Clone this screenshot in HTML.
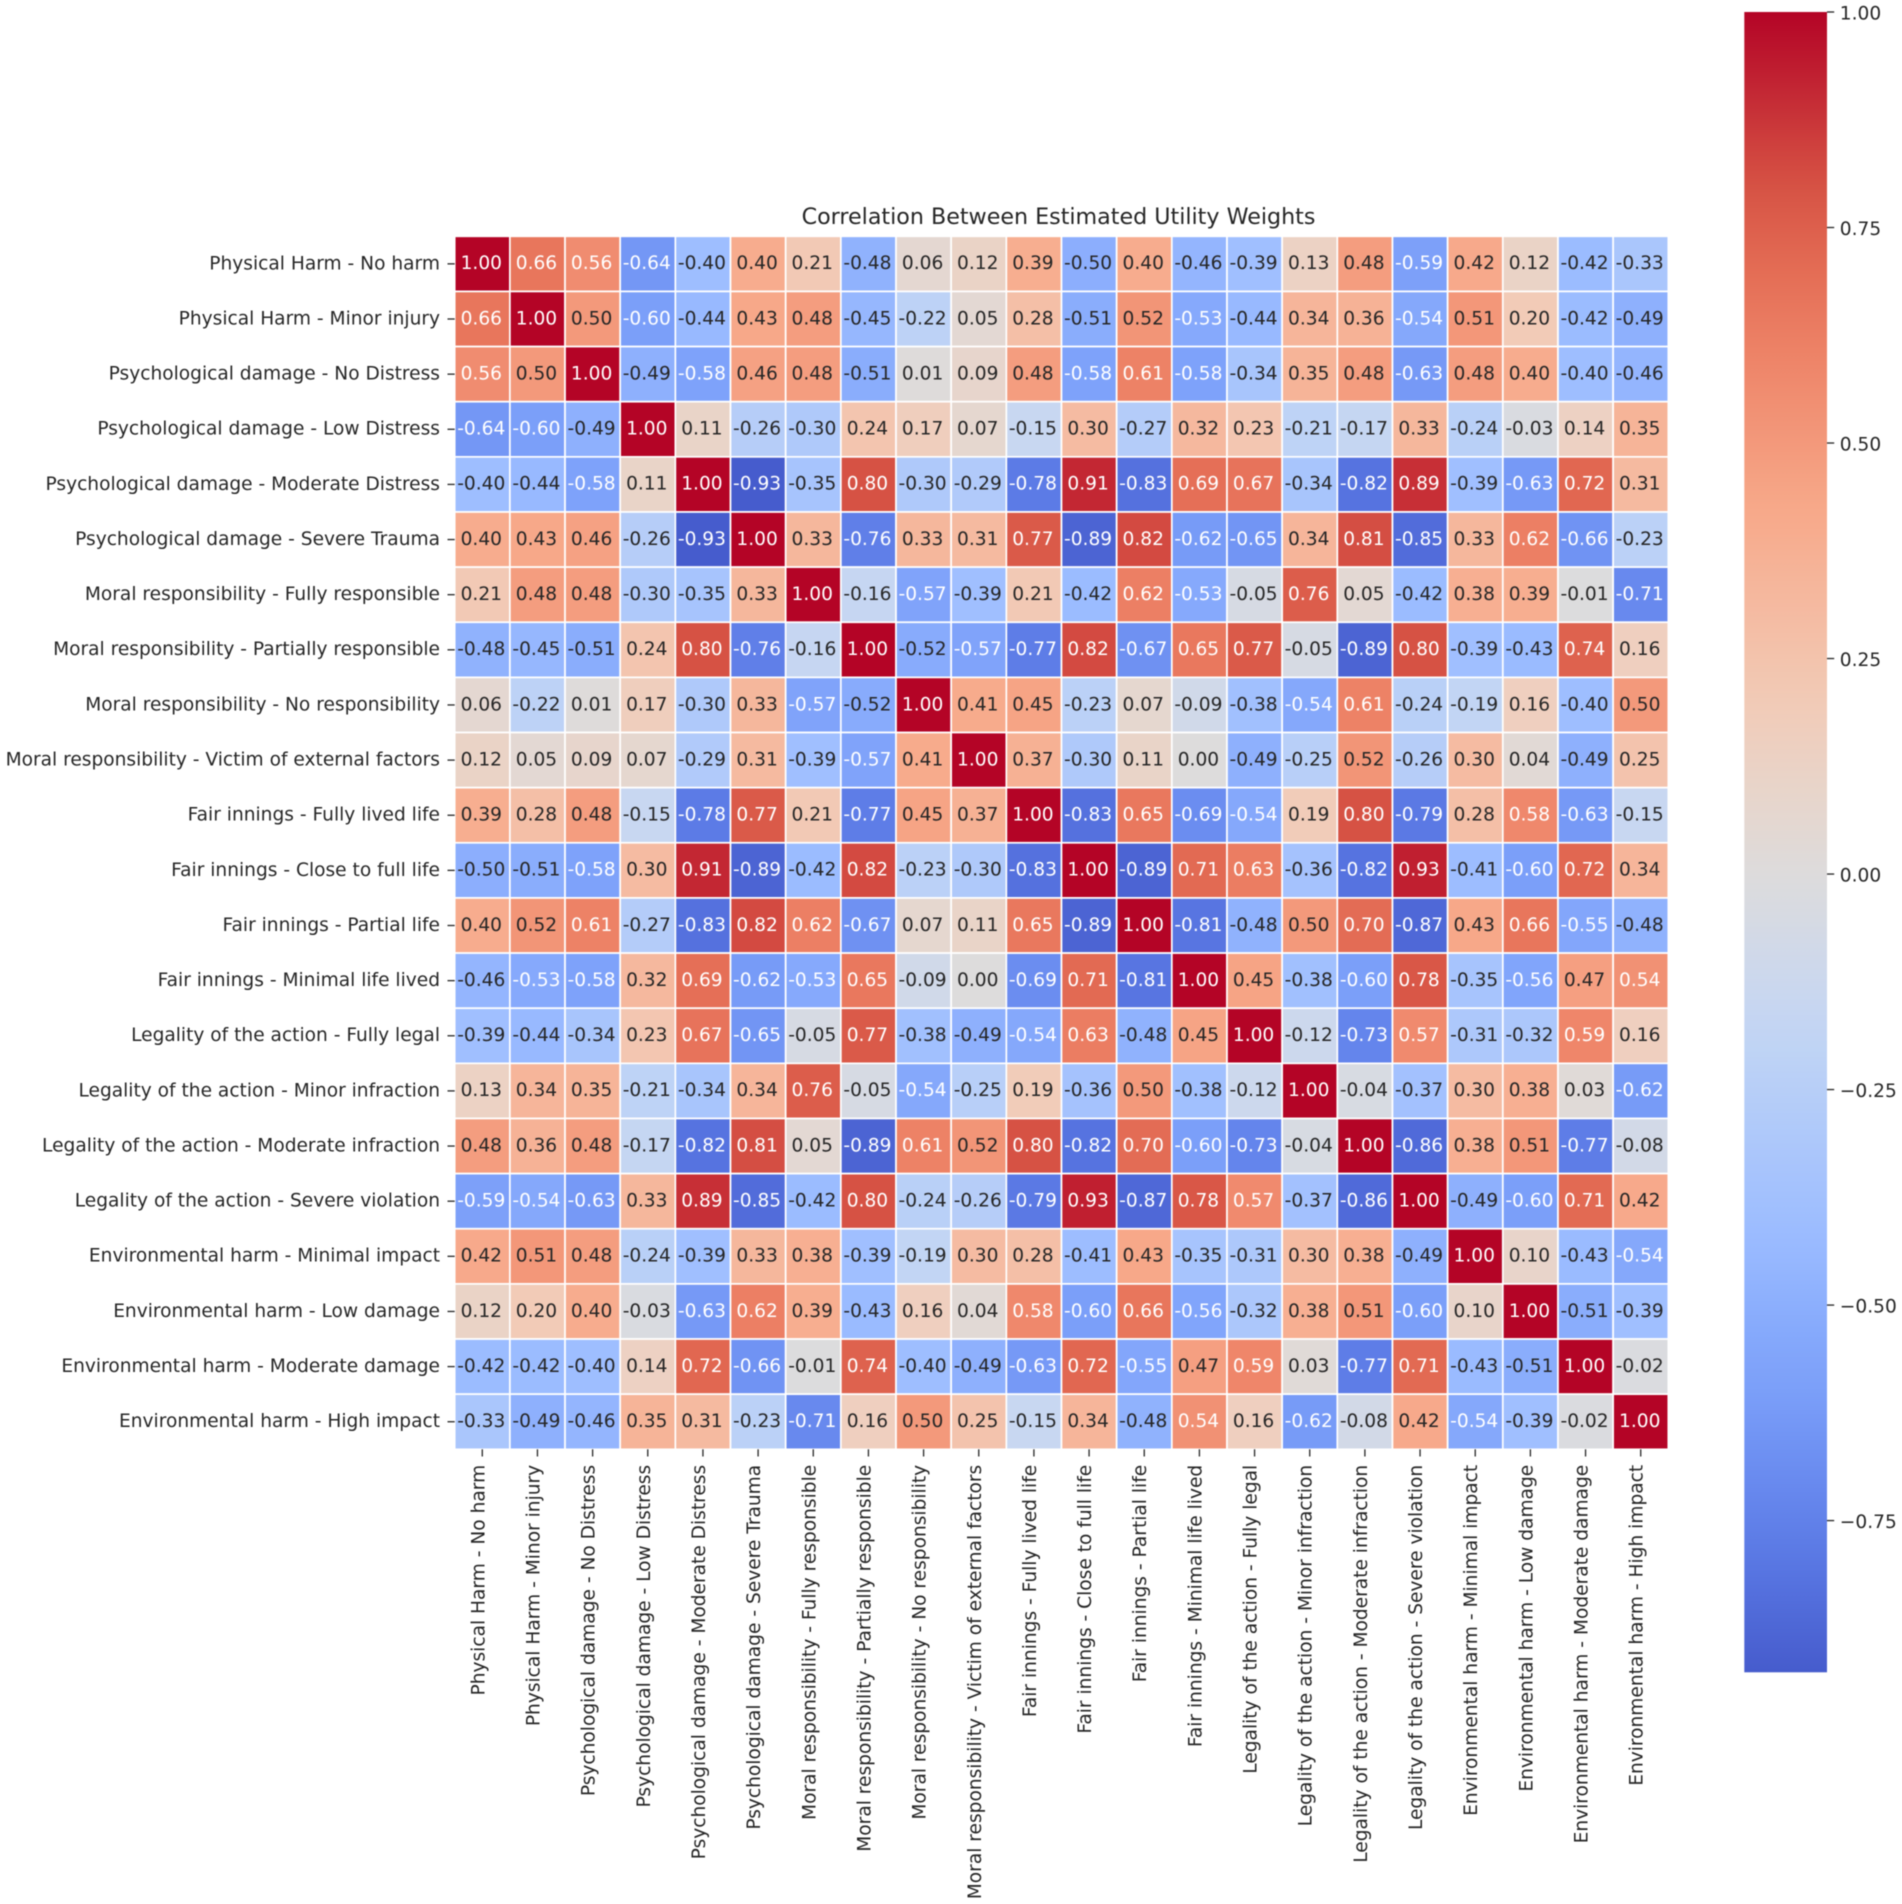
<!DOCTYPE html>
<html lang="en">
<head>
<meta charset="utf-8">
<title>Correlation Between Estimated Utility Weights</title>
<style>
  html, body { margin: 0; padding: 0; background: #ffffff; }
  body { width: 1902px; height: 1904px; overflow: hidden; }
  svg { display: block; filter: blur(0.4px); }
  text { font-family: "DejaVu Sans", "Liberation Sans", sans-serif; fill: #262626; }
</style>
</head>
<body>
<svg id="chart" xmlns="http://www.w3.org/2000/svg" width="1902" height="1904" viewBox="0 0 1902 1904">
  <defs id="defs"></defs>
  <text x="1058.5" y="224" text-anchor="middle" font-size="22.2">Correlation Between Estimated Utility Weights</text>
  <g id="cells"></g>
  <g id="annotations"></g>
  <g id="y-axis"></g>
  <g id="x-axis"></g>
  <g id="colorbar"></g>
</svg>
<script>
const categories = [
  "Physical Harm - No harm",
  "Physical Harm - Minor injury",
  "Psychological damage - No Distress",
  "Psychological damage - Low Distress",
  "Psychological damage - Moderate Distress",
  "Psychological damage - Severe Trauma",
  "Moral responsibility - Fully responsible",
  "Moral responsibility - Partially responsible",
  "Moral responsibility - No responsibility",
  "Moral responsibility - Victim of external factors",
  "Fair innings - Fully lived life",
  "Fair innings - Close to full life",
  "Fair innings - Partial life",
  "Fair innings - Minimal life lived",
  "Legality of the action - Fully legal",
  "Legality of the action - Minor infraction",
  "Legality of the action - Moderate infraction",
  "Legality of the action - Severe violation",
  "Environmental harm - Minimal impact",
  "Environmental harm - Low damage",
  "Environmental harm - Moderate damage",
  "Environmental harm - High impact"
];
const correlations = [
  [1.00,0.66,0.56,-0.64,-0.40,0.40,0.21,-0.48,0.06,0.12,0.39,-0.50,0.40,-0.46,-0.39,0.13,0.48,-0.59,0.42,0.12,-0.42,-0.33],
  [0.66,1.00,0.50,-0.60,-0.44,0.43,0.48,-0.45,-0.22,0.05,0.28,-0.51,0.52,-0.53,-0.44,0.34,0.36,-0.54,0.51,0.20,-0.42,-0.49],
  [0.56,0.50,1.00,-0.49,-0.58,0.46,0.48,-0.51,0.01,0.09,0.48,-0.58,0.61,-0.58,-0.34,0.35,0.48,-0.63,0.48,0.40,-0.40,-0.46],
  [-0.64,-0.60,-0.49,1.00,0.11,-0.26,-0.30,0.24,0.17,0.07,-0.15,0.30,-0.27,0.32,0.23,-0.21,-0.17,0.33,-0.24,-0.03,0.14,0.35],
  [-0.40,-0.44,-0.58,0.11,1.00,-0.926,-0.35,0.80,-0.30,-0.29,-0.78,0.91,-0.83,0.69,0.67,-0.34,-0.82,0.89,-0.39,-0.63,0.72,0.31],
  [0.40,0.43,0.46,-0.26,-0.926,1.00,0.33,-0.76,0.33,0.31,0.77,-0.89,0.82,-0.62,-0.65,0.34,0.81,-0.85,0.33,0.62,-0.66,-0.23],
  [0.21,0.48,0.48,-0.30,-0.35,0.33,1.00,-0.16,-0.57,-0.39,0.21,-0.42,0.62,-0.53,-0.05,0.76,0.05,-0.42,0.38,0.39,-0.01,-0.71],
  [-0.48,-0.45,-0.51,0.24,0.80,-0.76,-0.16,1.00,-0.52,-0.57,-0.77,0.82,-0.67,0.65,0.77,-0.05,-0.89,0.80,-0.39,-0.43,0.74,0.16],
  [0.06,-0.22,0.01,0.17,-0.30,0.33,-0.57,-0.52,1.00,0.41,0.45,-0.23,0.07,-0.09,-0.38,-0.54,0.61,-0.24,-0.19,0.16,-0.40,0.50],
  [0.12,0.05,0.09,0.07,-0.29,0.31,-0.39,-0.57,0.41,1.00,0.37,-0.30,0.11,0.00,-0.49,-0.25,0.52,-0.26,0.30,0.04,-0.49,0.25],
  [0.39,0.28,0.48,-0.15,-0.78,0.77,0.21,-0.77,0.45,0.37,1.00,-0.83,0.65,-0.69,-0.54,0.19,0.80,-0.79,0.28,0.58,-0.63,-0.15],
  [-0.50,-0.51,-0.58,0.30,0.91,-0.89,-0.42,0.82,-0.23,-0.30,-0.83,1.00,-0.89,0.71,0.63,-0.36,-0.82,0.93,-0.41,-0.60,0.72,0.34],
  [0.40,0.52,0.61,-0.27,-0.83,0.82,0.62,-0.67,0.07,0.11,0.65,-0.89,1.00,-0.81,-0.48,0.50,0.70,-0.87,0.43,0.66,-0.55,-0.48],
  [-0.46,-0.53,-0.58,0.32,0.69,-0.62,-0.53,0.65,-0.09,0.00,-0.69,0.71,-0.81,1.00,0.45,-0.38,-0.60,0.78,-0.35,-0.56,0.47,0.54],
  [-0.39,-0.44,-0.34,0.23,0.67,-0.65,-0.05,0.77,-0.38,-0.49,-0.54,0.63,-0.48,0.45,1.00,-0.12,-0.73,0.57,-0.31,-0.32,0.59,0.16],
  [0.13,0.34,0.35,-0.21,-0.34,0.34,0.76,-0.05,-0.54,-0.25,0.19,-0.36,0.50,-0.38,-0.12,1.00,-0.04,-0.37,0.30,0.38,0.03,-0.62],
  [0.48,0.36,0.48,-0.17,-0.82,0.81,0.05,-0.89,0.61,0.52,0.80,-0.82,0.70,-0.60,-0.73,-0.04,1.00,-0.86,0.38,0.51,-0.77,-0.08],
  [-0.59,-0.54,-0.63,0.33,0.89,-0.85,-0.42,0.80,-0.24,-0.26,-0.79,0.93,-0.87,0.78,0.57,-0.37,-0.86,1.00,-0.49,-0.60,0.71,0.42],
  [0.42,0.51,0.48,-0.24,-0.39,0.33,0.38,-0.39,-0.19,0.30,0.28,-0.41,0.43,-0.35,-0.31,0.30,0.38,-0.49,1.00,0.10,-0.43,-0.54],
  [0.12,0.20,0.40,-0.03,-0.63,0.62,0.39,-0.43,0.16,0.04,0.58,-0.60,0.66,-0.56,-0.32,0.38,0.51,-0.60,0.10,1.00,-0.51,-0.39],
  [-0.42,-0.42,-0.40,0.14,0.72,-0.66,-0.01,0.74,-0.40,-0.49,-0.63,0.72,-0.55,0.47,0.59,0.03,-0.77,0.71,-0.43,-0.51,1.00,-0.02],
  [-0.33,-0.49,-0.46,0.35,0.31,-0.23,-0.71,0.16,0.50,0.25,-0.15,0.34,-0.48,0.54,0.16,-0.62,-0.08,0.42,-0.54,-0.39,-0.02,1.00]
];
const colorbarTicks = [1.00, 0.75, 0.50, 0.25, 0.00, -0.25, -0.50, -0.75];

const SVG_NS = "http://www.w3.org/2000/svg";
const plotLeft = 454.7, plotRight = 1668.3, plotTop = 236.3, plotBottom = 1449.3;
const barLeft = 1744.3, barRight = 1827, barTop = 12, barBottom = 1672.3;
const annotationSize = 18.6, tickSize = 18.6;
const tickColor = "#262626";

const flatValues = correlations.flat();
const vmin = Math.min(...flatValues);
const vmax = Math.max(...flatValues);
/* diverging colormap centred on zero: the range is symmetric around 0 */
const colorRange = Math.max(Math.abs(vmin), Math.abs(vmax));

const colormapStops = [
  [0, 59, 76, 192], [0.1, 89, 119, 227], [0.1429, 103, 136, 238], [0.2, 123, 159, 249],
  [0.2375, 135, 170, 252], [0.2857, 154, 187, 255], [0.3, 158, 190, 255], [0.4, 192, 212, 245],
  [0.4286, 201, 215, 240], [0.5, 221, 220, 220], [0.5714, 237, 209, 194], [0.6, 242, 203, 183],
  [0.7, 247, 172, 142], [0.7143, 247, 168, 137], [0.8, 238, 132, 104], [0.8571, 226, 105, 82],
  [0.9, 214, 82, 68], [1, 180, 4, 38]
];

function xScale(i) { return plotLeft + i * (plotRight - plotLeft) / categories.length; }
function yScale(i) { return plotTop + i * (plotBottom - plotTop) / categories.length; }
function barScale(v) { return barTop + (vmax - v) / (vmax - vmin) * (barBottom - barTop); }

function coolwarm(t) {
  const c = Math.max(0, Math.min(1, t));
  for (let k = 1; k < colormapStops.length; k++) {
    if (c <= colormapStops[k][0]) {
      const a = colormapStops[k - 1], b = colormapStops[k];
      const f = (c - a[0]) / (b[0] - a[0]);
      return [a[1] + f * (b[1] - a[1]), a[2] + f * (b[2] - a[2]), a[3] + f * (b[3] - a[3])];
    }
  }
  return colormapStops[colormapStops.length - 1].slice(1);
}
function colorOf(v) { return coolwarm((v + colorRange) / (2 * colorRange)); }
function cssColor(rgb) { return "rgb(" + rgb.map(Math.round).join(",") + ")"; }
function luminance(rgb) {
  const lin = rgb.map(function (c) {
    const s = c / 255;
    return s <= 0.03928 ? s / 12.92 : Math.pow((s + 0.055) / 1.055, 2.4);
  });
  return 0.2126 * lin[0] + 0.7152 * lin[1] + 0.0722 * lin[2];
}
function make(tag, attrs, parent, content) {
  const el = document.createElementNS(SVG_NS, tag);
  for (const key in attrs) el.setAttribute(key, attrs[key]);
  if (content !== undefined) el.textContent = content;
  parent.appendChild(el);
  return el;
}

const cellsGroup = document.getElementById("cells");
const annotationsGroup = document.getElementById("annotations");
const yAxisGroup = document.getElementById("y-axis");
const xAxisGroup = document.getElementById("x-axis");
const colorbarGroup = document.getElementById("colorbar");
const defs = document.getElementById("defs");

correlations.forEach(function (row, r) {
  row.forEach(function (value, c) {
    const rgb = colorOf(value);
    const cell = make("rect", {
      x: xScale(c), y: yScale(r),
      width: xScale(c + 1) - xScale(c), height: yScale(r + 1) - yScale(r),
      fill: cssColor(rgb), stroke: "#ffffff", "stroke-width": 1.7
    }, cellsGroup);
    
    
    const label = make("text", {
      x: (xScale(c) + xScale(c + 1)) / 2 - 1,
      y: (yScale(r) + yScale(r + 1)) / 2 + 5.3,
      "text-anchor": "middle", "font-size": annotationSize,
      style: "fill:" + (luminance(rgb) > 0.408 ? "#262626" : "#ffffff")
    }, annotationsGroup, value.toFixed(2));
    
    
  });
});

categories.forEach(function (name, i) {
  const yc = (yScale(i) + yScale(i + 1)) / 2;
  const yTick = make("line", { x1: plotLeft - 7.2, x2: plotLeft, y1: yc, y2: yc, stroke: tickColor, "stroke-width": 1.3 }, yAxisGroup);
  
  
  const yLabel = make("text", { x: plotLeft - 14.7, y: yc + 5.4, "text-anchor": "end", "font-size": tickSize }, yAxisGroup, name);
  
  

  const xc = (xScale(i) + xScale(i + 1)) / 2;
  const xTick = make("line", { x1: xc, x2: xc, y1: plotBottom, y2: plotBottom + 7.2, stroke: tickColor, "stroke-width": 1.3 }, xAxisGroup);
  
  
  const lx = xc + 2;
  const ly = plotBottom + 15.5;
  const xLabel = make("text", { x: lx, y: ly, "text-anchor": "end", "font-size": tickSize, transform: "rotate(-90 " + lx + " " + ly + ")" }, xAxisGroup, name);
  
  
});

const gradient = make("linearGradient", { id: "colorbar-gradient", x1: 0, y1: 1, x2: 0, y2: 0 }, defs);
for (let s = 0; s <= 64; s++) {
  make("stop", { offset: s / 64, "stop-color": cssColor(colorOf(vmin + (vmax - vmin) * s / 64)) }, gradient);
}
const colorbarRect = make("rect", {
  x: barLeft, y: barScale(vmax), width: barRight - barLeft,
  height: barScale(vmin) - barScale(vmax), fill: "url(#colorbar-gradient)"
}, colorbarGroup);



colorbarTicks.forEach(function (value) {
  const y = barScale(value);
  const cbTick = make("line", { x1: barRight, x2: barRight + 7.2, y1: y, y2: y, stroke: tickColor, "stroke-width": 1.3 }, colorbarGroup);
  
  
  const text = (value < 0 ? "\u2212" : "") + Math.abs(value).toFixed(2);
  const cbLabel = make("text", { x: barRight + 12.8, y: y + 7.5, "font-size": tickSize }, colorbarGroup, text);
  
  
});
</script>
</body>
</html>
